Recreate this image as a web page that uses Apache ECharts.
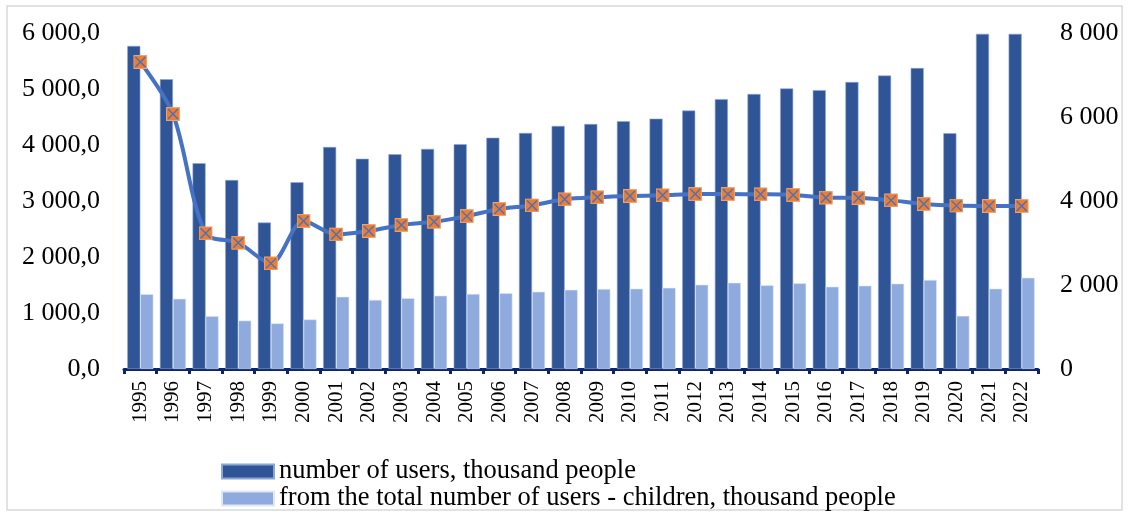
<!DOCTYPE html>
<html>
<head>
<meta charset="utf-8">
<script src="https://cdn.jsdelivr.net/npm/echarts@6/dist/echarts.min.js"></script>
<style>
  html, body { margin: 0; padding: 0; background: #fff; }
  #chart { width: 1129px; height: 512px; }
</style>
</head>
<body>
<div id="chart"></div>
<script>
'use strict';
var years = ['1995', '1996', '1997', '1998', '1999', '2000', '2001', '2002', '2003', '2004',
    '2005', '2006', '2007', '2008', '2009', '2010', '2011', '2012', '2013', '2014',
    '2015', '2016', '2017', '2018', '2019', '2020', '2021', '2022'];

// number of users, thousand people (left axis)
var users = [5770, 5175, 3675, 3375, 2615, 3335, 3965, 3755, 3835, 3930,
    4015, 4130, 4215, 4340, 4375, 4425, 4470, 4615, 4820, 4910,
    5010, 4980, 5125, 5240, 5375, 4210, 5985, 5985];

// children, thousand people (left axis)
var children = [1335, 1255, 945, 865, 815, 885, 1290, 1235, 1265, 1310,
    1340, 1355, 1380, 1415, 1430, 1435, 1450, 1505, 1540, 1495,
    1530, 1470, 1488, 1525, 1590, 950, 1435, 1630];

// line on the right axis
var lineVals = [7310, 6070, 3230, 3005, 2515, 3525, 3205, 3285, 3430, 3505,
    3640, 3810, 3895, 4040, 4090, 4120, 4135, 4165, 4165, 4160,
    4145, 4080, 4070, 4015, 3930, 3890, 3880, 3880];

var seriesNames = ['number of users, thousand people',
    'from the total number of users - children, thousand people'];

var font = "'Liberation Serif', 'DejaVu Serif', serif";

// orange square with blue cross, like the excel marker
var markerSvg = "<svg xmlns='http://www.w3.org/2000/svg' width='14' height='14'>" +
    "<rect x='0.5' y='0.5' width='13' height='13' fill='#ED7D31' stroke='#F4A46B' stroke-width='1'/>" +
    "<path d='M2 2L12 12M12 2L2 12' stroke='#4472C4' stroke-width='1.4'/></svg>";
var marker = 'image://data:image/svg+xml;charset=utf-8,' + encodeURIComponent(markerSvg);

function spaced(v, dec) {
    var s = v.toFixed(dec).replace('.', ',');
    var parts = s.split(',');
    var intPart = parts[0].replace(/\B(?=(\d{3})+(?!\d))/g, ' ');
    return parts.length > 1 ? intPart + ',' + parts[1] : intPart;
}

function legendAt(name, top) {
    return {
        data: [name],
        left: 221,
        top: top,
        padding: 0,
        itemWidth: 52,
        itemHeight: 14,
        itemGap: 0,
        icon: 'rect',
        textStyle: { fontFamily: font, fontSize: 26.5, color: '#000', lineHeight: 27 }
    };
}

var myChart = echarts.init(document.getElementById('chart'));

var option = {
    animation: false,
    backgroundColor: '#fff',
    graphic: [{
        type: 'rect',
        shape: { x: 7, y: 6, width: 1115, height: 504 },
        style: { fill: 'none', stroke: '#d9d9d9', lineWidth: 1.5 },
        silent: true
    }],
    grid: { left: 124, right: 91, top: 33, bottom: 143 },
    legend: [legendAt(seriesNames[0], 458), legendAt(seriesNames[1], 485)],
    xAxis: {
        type: 'category',
        data: years,
        boundaryGap: true,
        axisLine: { lineStyle: { color: '#0b2566', width: 3 } },
        axisTick: { show: true, length: 5, lineStyle: { color: '#0b2566', width: 3 } },
        axisLabel: {
            rotate: 90,
            margin: 12,
            fontFamily: font,
            fontSize: 21,
            color: '#000'
        }
    },
    yAxis: [{
        type: 'value',
        min: 0,
        max: 6000,
        interval: 1000,
        axisLine: { show: false },
        axisTick: { show: false },
        splitLine: { show: false },
        axisLabel: {
            margin: 24,
            fontFamily: font,
            fontSize: 26,
            color: '#000',
            formatter: function (v) { return spaced(v, 1); }
        }
    }, {
        type: 'value',
        min: 0,
        max: 8000,
        interval: 2000,
        position: 'right',
        axisLine: { show: false },
        axisTick: { show: false },
        splitLine: { show: false },
        axisLabel: {
            margin: 22,
            fontFamily: font,
            fontSize: 26,
            color: '#000',
            formatter: function (v) { return spaced(v, 0); }
        }
    }],
    series: [{
        name: seriesNames[0],
        type: 'bar',
        data: users,
        barGap: '0%',
        barCategoryGap: '20%',
        itemStyle: { color: '#2F5597', borderColor: '#8EA6D4', borderWidth: 0.6 }
    }, {
        name: seriesNames[1],
        type: 'bar',
        data: children,
        itemStyle: { color: '#8FAADC', borderColor: '#dfe7f5', borderWidth: 0.6 }
    }, {
        name: 'line',
        type: 'line',
        yAxisIndex: 1,
        data: lineVals,
        smooth: 0.3,
        z: 5,
        lineStyle: { color: '#4472C4', width: 4 },
        symbol: marker,
        symbolSize: 14,
        showAllSymbol: true
    }]
};

myChart.setOption(option);
</script>
</body>
</html>
